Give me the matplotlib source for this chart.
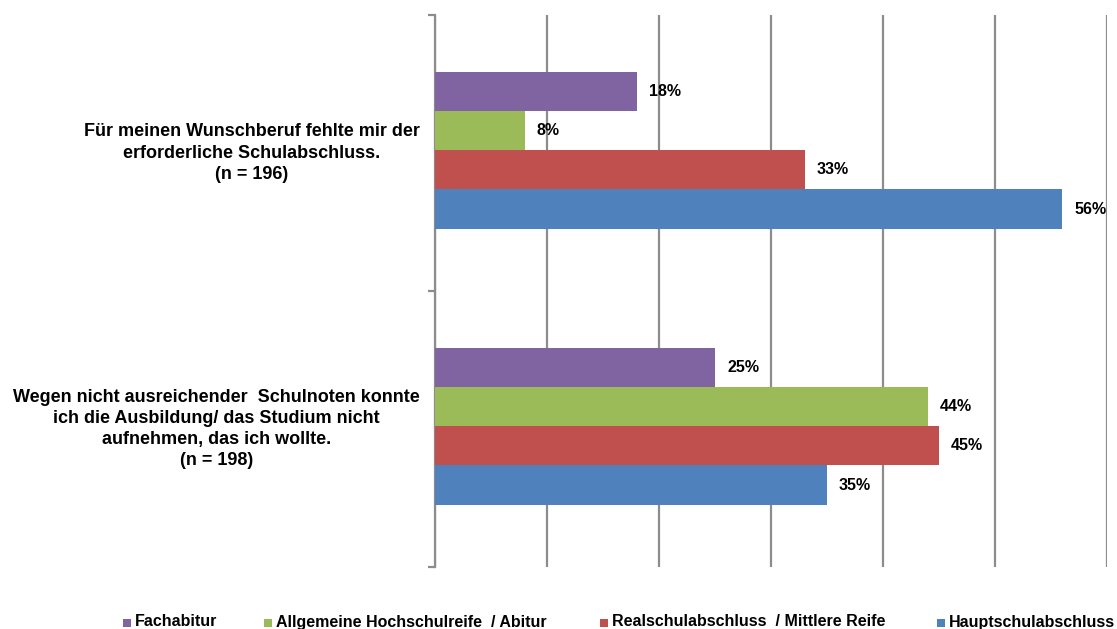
import matplotlib
matplotlib.use("Agg")
import matplotlib.pyplot as plt
import numpy as np
from matplotlib.patches import Rectangle

categories = [
    "Für meinen Wunschberuf fehlte mir der\nerforderliche Schulabschluss.\n(n = 196)",
    "Wegen nicht ausreichender  Schulnoten konnte\nich die Ausbildung/ das Studium nicht\naufnehmen, das ich wollte.\n(n = 198)",
]
series_names = ["Fachabitur", "Allgemeine Hochschulreife  / Abitur",
                "Realschulabschluss  / Mittlere Reife", "Hauptschulabschluss"]
fachabitur = [18, 25]
abitur = [8, 44]
realschule = [33, 45]
hauptschule = [56, 35]
series_values = [fachabitur, abitur, realschule, hauptschule]
colors = ["#8064A2", "#9BBB59", "#C0504D", "#4F81BD"]

fig = plt.figure(figsize=(11.17, 6.29), dpi=100)
W, H = 1117, 629
ax = fig.add_axes([435 / W, (H - 567) / H, (1107 - 435) / W, (567 - 15) / H])

bar_h = 0.142
n = len(series_values)
y = np.arange(len(categories))
for i, (vals, col) in enumerate(zip(series_values, colors)):
    off = (i - (n - 1) / 2) * bar_h
    bars = ax.barh(y + off - 0.01, vals, height=bar_h, color=col, zorder=3)
    for b, v in zip(bars, vals):
        ax.annotate(f"{v}%", (b.get_width(), b.get_y() + b.get_height() / 2),
                    xytext=(12, 0), textcoords="offset pixels",
                    ha="left", va="center", fontsize=11.5, fontweight="bold",
                    family="Liberation Sans", zorder=4)

ax.set_xlim(0, 60)
ax.set_ylim(1.5, -0.5)
ax.set_xticks(np.arange(0, 61, 10))
ax.xaxis.grid(True, color="#8C8C8C", linewidth=1.6, zorder=0)
ax.tick_params(axis="x", length=0, labelbottom=False)
ax.set_yticks([-0.5, 0.5, 1.5])
ax.set_yticklabels([])
ax.tick_params(axis="y", length=5, width=1.6, color="#8C8C8C", direction="out")
for s in ["top", "right", "bottom"]:
    ax.spines[s].set_visible(False)
ax.spines["left"].set_color("#8C8C8C")
ax.spines["left"].set_linewidth(1.6)

for yi, lab in zip(y, categories):
    ax.annotate(lab, (0, yi), xytext=(-15, 0), textcoords="offset pixels",
                ha="right", va="center", multialignment="center",
                fontsize=13, fontweight="bold", family="Liberation Sans",
                linespacing=1.32)

# legend (manual, baseline-aligned)
legend_x = [123, 264, 600, 937]
baseline = 626.5
for name, col, lx in zip(series_names, colors, legend_x):
    fig.patches.append(Rectangle((lx / W, 1 - baseline / H), 8 / W, 8 / H,
                                 transform=fig.transFigure, facecolor=col,
                                 edgecolor="none"))
    fig.text((lx + 12) / W, 1 - baseline / H, name, ha="left", va="baseline",
             fontsize=11.5, fontweight="bold", family="Liberation Sans")

fig.savefig("out.png", dpi=100)
